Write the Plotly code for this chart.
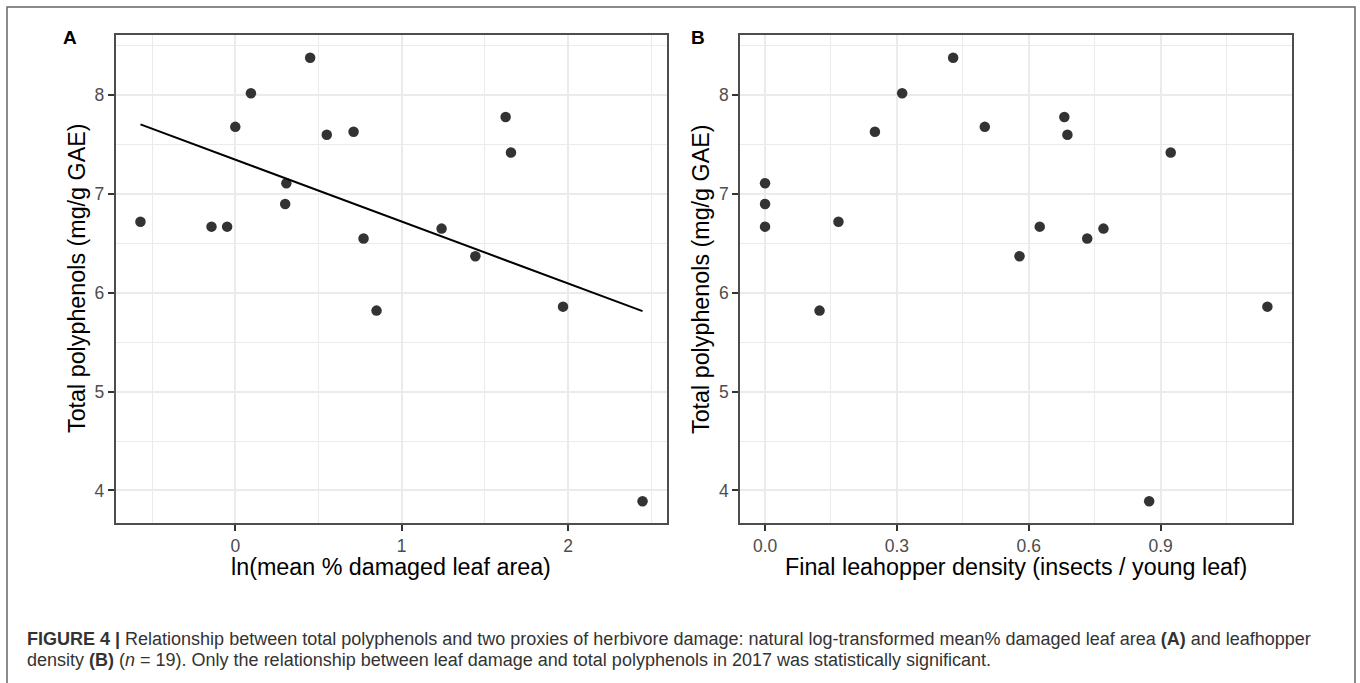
import numpy as np
import plotly.graph_objects as go

# ---- data ----
polyphenols = [6.72, 6.67, 6.67, 7.68, 8.02, 8.38, 7.11, 6.90, 7.60, 7.63,
               6.55, 6.65, 6.37, 7.78, 7.42, 5.82, 5.86, 3.89]
ln_damage = [-0.57, -0.143, -0.049, 0.0, 0.094, 0.45, 0.307, 0.30, 0.55, 0.711,
             0.771, 1.24, 1.443, 1.625, 1.657, 0.849, 1.97, 2.448]
leafhopper = [0.167, 0.0, 0.625, 0.50, 0.312, 0.428, 0.0, 0.0, 0.688, 0.25,
              0.733, 0.770, 0.579, 0.681, 0.923, 0.124, 1.143, 0.874]

y_ticks = [4, 5, 6, 7, 8]
xa_ticks = [0, 1, 2]
xb_ticks = [0.0, 0.3, 0.6, 0.9]
xb_labels = ["0.0", "0.3", "0.6", "0.9"]

W, H = 1360, 683
def px(x):
    return x / W
def py(y):
    return 1 - y / H

# fitted linear model for panel A
slope, intercept = np.polyfit(ln_damage, polyphenols, 1)
fit_x = np.array([min(ln_damage), max(ln_damage)])
fit_y = intercept + slope * fit_x

fig = go.Figure()
mk = dict(size=10.5, color="rgba(51,51,51,1)")
fig.add_trace(go.Scatter(x=ln_damage, y=polyphenols, mode="markers", marker=mk,
                         xaxis="x", yaxis="y", showlegend=False))
fig.add_trace(go.Scatter(x=fit_x, y=fit_y, mode="lines",
                         line=dict(color="black", width=2),
                         xaxis="x", yaxis="y", showlegend=False))
fig.add_trace(go.Scatter(x=leafhopper, y=polyphenols, mode="markers", marker=mk,
                         xaxis="x2", yaxis="y2", showlegend=False))

font_family = "Liberation Sans, Arial, Helvetica, sans-serif"
tickfont = dict(family=font_family, size=17.5, color="#4D4D4D")
axis_common = dict(
    showline=True, mirror=True, linecolor="#4D4D4D", linewidth=1.5,
    ticks="outside", ticklen=6, tickwidth=1.6, tickcolor="#333333",
    showgrid=True, gridcolor="#EBEBEB", gridwidth=1.8,
    zeroline=False, tickfont=tickfont,
)

ydom = [py(523), py(35)]
yr = [3.67, 8.61]

fig.update_layout(
    width=W, height=H,
    margin=dict(l=0, r=0, t=0, b=0),
    paper_bgcolor="white", plot_bgcolor="white",
    font=dict(family=font_family),
    xaxis=dict(domain=[px(115.5), px(667)], range=[-0.72, 2.595],
               tickvals=xa_ticks, ticktext=[str(v) for v in xa_ticks],
               minor=dict(dtick=0.5, tick0=-0.5, showgrid=True, gridcolor="#EBEBEB",
                          gridwidth=0.9, ticks=""),
               anchor="y", **axis_common),
    yaxis=dict(domain=ydom, range=yr, tickvals=y_ticks,
               minor=dict(dtick=0.5, tick0=3.5, showgrid=True, gridcolor="#EBEBEB",
                          gridwidth=0.9, ticks=""),
               anchor="x", **axis_common),
    xaxis2=dict(domain=[px(740), px(1292)], range=[-0.057, 1.199],
                tickvals=xb_ticks, ticktext=xb_labels,
                minor=dict(dtick=0.15, tick0=-0.15, showgrid=True, gridcolor="#EBEBEB",
                           gridwidth=0.9, ticks=""),
                anchor="y2", **axis_common),
    yaxis2=dict(domain=ydom, range=yr, tickvals=y_ticks,
                minor=dict(dtick=0.5, tick0=3.5, showgrid=True, gridcolor="#EBEBEB",
                           gridwidth=0.9, ticks=""),
                anchor="x2", **axis_common),
)

title_font = dict(family=font_family, size=23.3, color="black")
ann = []
ann.append(dict(text="ln(mean % damaged leaf area)", x=px(391), y=py(567),
                xref="paper", yref="paper", showarrow=False, font=title_font,
                xanchor="center", yanchor="middle"))
ann.append(dict(text="Final leahopper density (insects / young leaf)", x=px(1016), y=py(567),
                xref="paper", yref="paper", showarrow=False, font=title_font,
                xanchor="center", yanchor="middle"))
ann.append(dict(text="Total polyphenols (mg/g GAE)", x=px(77), y=py(279),
                xref="paper", yref="paper", showarrow=False, font=title_font,
                textangle=-90, xanchor="center", yanchor="middle"))
ann.append(dict(text="Total polyphenols (mg/g GAE)", x=px(701), y=py(279),
                xref="paper", yref="paper", showarrow=False, font=title_font,
                textangle=-90, xanchor="center", yanchor="middle"))
panel_font = dict(family=font_family, size=19, color="black")
ann.append(dict(text="<b>A</b>", x=px(70), y=py(37), xref="paper", yref="paper",
                showarrow=False, font=panel_font, xanchor="center", yanchor="middle"))
ann.append(dict(text="<b>B</b>", x=px(698), y=py(37), xref="paper", yref="paper",
                showarrow=False, font=panel_font, xanchor="center", yanchor="middle"))

cap_font = dict(family=font_family, size=18, color="#333333")
line1 = ("<b>FIGURE 4 |</b> Relationship between total polyphenols and two proxies of herbivore "
         "damage: natural log-transformed mean% damaged leaf area <b>(A)</b> and leafhopper")
line2 = ("density <b>(B)</b> (<i>n</i> = 19). Only the relationship between leaf damage and total "
         "polyphenols in 2017 was statistically significant.")
ann.append(dict(text=line1, x=px(25), y=py(639), xref="paper", yref="paper",
                showarrow=False, font=cap_font, xanchor="left", yanchor="middle"))
ann.append(dict(text=line2, x=px(25), y=py(660), xref="paper", yref="paper",
                showarrow=False, font=cap_font, xanchor="left", yanchor="middle"))
fig.update_layout(annotations=ann)

# outer figure frame
fig.add_shape(type="rect", xref="paper", yref="paper",
              x0=px(7), x1=px(1355), y0=-0.05, y1=py(7),
              line=dict(color="#666666", width=1.5), fillcolor="rgba(0,0,0,0)")

fig.write_html("out.html")
